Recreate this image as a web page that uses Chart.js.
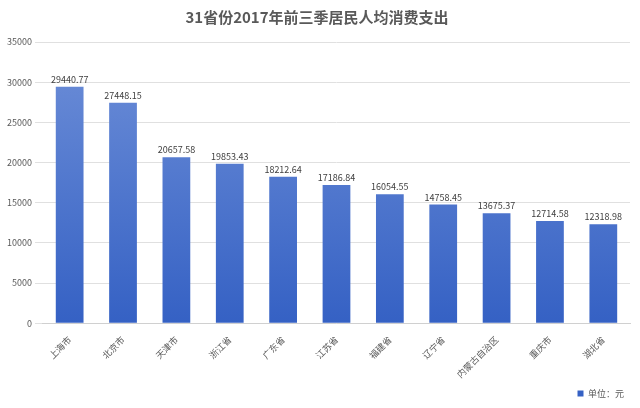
<!DOCTYPE html>
<html><head><meta charset="utf-8">
<script src="https://cdn.jsdelivr.net/npm/chart.js@4/dist/chart.umd.min.js"></script>
<style>html,body{margin:0;padding:0;background:#fff}#w{width:640px;height:408px}</style>
</head><body><div id="w"><canvas id="c"></canvas></div>
<script>
const categories=["上海市","北京市","天津市","浙江省","广东省","江苏省","福建省","辽宁省","内蒙古自治区","重庆市","湖北省"];
const values=[29440.77,27448.15,20657.58,19853.43,18212.64,17186.84,16054.55,14758.45,13675.37,12714.58,12318.98];
const seriesName="单位：元";
const FONT="'Noto Sans CJK SC', 'Noto Sans', sans-serif";
const labelPlugin={id:'lbl',afterDatasetsDraw(ch){const ctx=ch.ctx;const m=ch.getDatasetMeta(0);ctx.save();ctx.font="9px "+FONT;ctx.fillStyle="#404040";ctx.textAlign="center";ctx.textBaseline="bottom";
m.data.forEach((b,i)=>ctx.fillText(values[i].toFixed(2),b.x,b.y-3));ctx.restore();}};
new Chart(document.getElementById('c'),{type:'bar',
data:{labels:categories,datasets:[{label:seriesName,data:values,
backgroundColor:(c)=>{const ch=c.chart;const a=ch.chartArea;if(!a)return '#4472c4';const g=ch.ctx.createLinearGradient(0,a.top,0,a.bottom);g.addColorStop(0,'#6e8fd8');g.addColorStop(1,'#3561c4');return g;},
barPercentage:0.52,categoryPercentage:1}]},
options:{responsive:true,maintainAspectRatio:false,animation:false,
layout:{padding:{left:4,right:10,top:4,bottom:0}},
plugins:{title:{display:true,text:'31省份2017年前三季居民人均消费支出',color:'#595959',font:{family:FONT,size:15,weight:'bold'},padding:{top:4,bottom:16}},
legend:{display:true,position:'bottom',align:'end',labels:{boxWidth:6,boxHeight:6,padding:6,font:{family:FONT,size:9},color:'#595959'}},tooltip:{enabled:false}},
scales:{y:{min:0,max:35000,ticks:{stepSize:5000,font:{family:FONT,size:9},color:'#595959',callback:v=>String(v)},grid:{color:'#e0e0e0'},border:{display:false}},
x:{ticks:{font:{family:FONT,size:9},color:'#595959',maxRotation:45,minRotation:45},grid:{display:false},border:{color:'#d0d0d0'}}}},
plugins:[labelPlugin]});
</script></body></html>
